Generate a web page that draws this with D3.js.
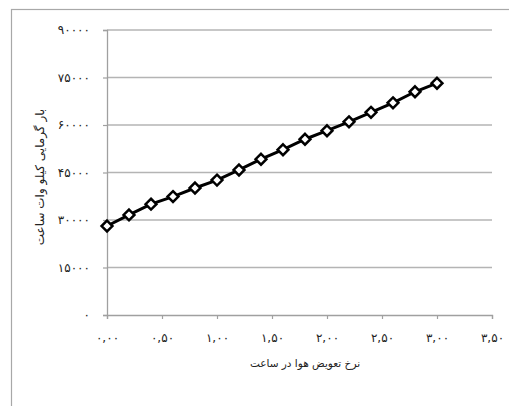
<!DOCTYPE html>
<html>
<head>
<meta charset="utf-8">
<script src="https://cdn.jsdelivr.net/npm/d3@7"></script>
<style>
  body { margin: 0; background: #fff; }
  svg { display: block; }
  text { font-family: "DejaVu Sans", sans-serif; }
</style>
</head>
<body>
<svg id="chart" width="509" height="406"></svg>
<script>
// air change rate per hour
const rates = [0, 0.2, 0.4, 0.6, 0.8, 1.0, 1.2, 1.4, 1.6, 1.8, 2.0, 2.2, 2.4, 2.6, 2.8, 3.0];
// heating load kWh
const loads = [28100, 31600, 35000, 37400, 40100, 42600, 45800, 49200, 52200, 55500, 58200, 61000, 64000, 67000, 70500, 73200];
const yTicks = [0, 15000, 30000, 45000, 60000, 75000, 90000];
const xTicks = [0, 0.5, 1.0, 1.5, 2.0, 2.5, 3.0, 3.5];

const faDigits = "۰۱۲۳۴۵۶۷۸۹";
const toFa = s => String(s).replace(/[0-9]/g, c => faDigits[+c]);

const svg = d3.select("#chart");

// outer chart frame (cut off on right and bottom)
svg.append("rect")
    .attr("x", 11.5).attr("y", 9.5)
    .attr("width", 520).attr("height", 420)
    .attr("fill", "none")
    .attr("stroke", "#a8a8a8")
    .attr("stroke-width", 1.2);

const x = d3.scaleLinear().domain([0, 3.5]).range([107, 492]);
const y = d3.scaleLinear().domain([0, 90000]).range([315, 30]);

// gridlines
svg.append("g")
    .selectAll("line")
    .data(yTicks.filter(d => d > 0))
    .enter()
    .append("line")
    .attr("x1", x(0)).attr("x2", x(3.5))
    .attr("y1", d => y(d)).attr("y2", d => y(d))
    .style("stroke", "#b4b4b4")
    .style("stroke-width", 1.3);

const yAxis = svg.append("g")
    .attr("transform", `translate(${x(0)},0)`)
    .call(d3.axisLeft(y).tickValues(yTicks).tickSize(4).tickPadding(13)
        .tickFormat(d => toFa(d)));

const xAxis = svg.append("g")
    .attr("transform", `translate(0,${y(0)})`)
    .call(d3.axisBottom(x).tickValues(xTicks).tickSize(4).tickPadding(14)
        .tickFormat(d => toFa(d3.format(".2f")(d).replace(".", ","))));

[yAxis, xAxis].forEach(a => {
    a.select(".domain").attr("stroke", "#a0a0a0").attr("stroke-width", 1.3);
    a.selectAll(".tick line").attr("stroke", "#a0a0a0").attr("stroke-width", 1.2);
    a.selectAll("text")
        .attr("fill", "#222")
        .style("font-size", "12px")
        .style("letter-spacing", "1.3px")
        .style("font-family", "'DejaVu Sans', sans-serif");
});

// series line
const line = d3.line()
    .x((d, i) => x(rates[i]))
    .y(d => y(d));

svg.append("path")
    .datum(loads)
    .attr("d", line)
    .attr("fill", "none")
    .attr("stroke", "#000")
    .attr("stroke-width", 3);

// diamond markers
svg.append("g")
    .selectAll("path")
    .data(loads)
    .enter()
    .append("path")
    .attr("d", d3.symbol().type(d3.symbolDiamond2).size(75))
    .attr("transform", (d, i) => `translate(${x(rates[i])},${y(d)})`)
    .attr("fill", "#fff")
    .attr("stroke", "#000")
    .attr("stroke-width", 2.5);

// axis titles
svg.append("text")
    .attr("x", 305)
    .attr("y", 367)
    .attr("text-anchor", "middle")
    .attr("direction", "rtl")
    .style("font-size", "10.5px")
    .attr("fill", "#222")
    .text("نرخ تعویض هوا در ساعت");

svg.append("text")
    .attr("transform", `translate(44,177) rotate(-90)`)
    .attr("text-anchor", "middle")
    .attr("direction", "rtl")
    .style("font-size", "12px")
    .attr("fill", "#222")
    .text("بار گرمایی کیلو وات ساعت");
</script>
</body>
</html>
